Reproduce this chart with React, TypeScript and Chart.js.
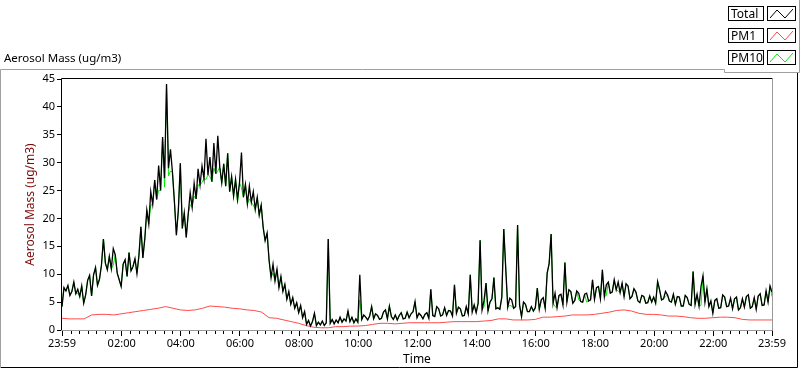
import React, { useEffect, useRef } from "react";
import { Chart, registerables } from "chart.js";

Chart.register(...registerables);

// minutes after the 23:59 start for each labelled tick
const TICK_MINUTES = [0, 121, 241, 361, 481, 601, 721, 841, 961, 1081, 1201, 1321, 1440];
const TICK_LABELS = ["23:59", "02:00", "04:00", "06:00", "08:00", "10:00", "12:00", "14:00", "16:00", "18:00", "20:00", "22:00", "23:59"];

const SAMPLE_MIN = 4; // Total and PM10 sampling interval (minutes)
const PM1_STEP_MIN = 15;

// Total aerosol mass, one value per 4 minutes (rows = 1 hour)
const TOTAL = [
  4.2, 7.6, 7.0, 8.0, 6.2, 6.9, 8.6, 6.5, 7.3, 6.0, 7.9, 4.8, 6.3, 8.9, 9.8,
  6.1, 9.9, 11.2, 8.0, 9.1, 11.6, 16.3, 12.0, 10.8, 13.2, 11.0, 14.6, 13.5, 10.2, 9.0,
  7.8, 11.8, 12.6, 9.6, 13.9, 10.6, 11.4, 12.8, 10.1, 13.3, 18.5, 12.9, 16.4, 21.5, 19.0,
  24.8, 22.5, 26.9, 23.4, 29.5, 25.0, 34.6, 27.2, 44.1, 29.0, 32.4, 28.3, 23.0, 17.0, 21.5,
  29.9, 18.2, 21.0, 16.6, 20.8, 24.6, 22.0, 26.3, 23.5, 28.9, 26.0, 29.4, 27.1, 34.3, 27.8,
  31.0, 26.6, 33.5, 28.0, 34.8, 29.2, 26.4, 29.8, 25.8, 31.7, 24.8, 27.5, 24.0, 27.0, 23.4,
  26.4, 31.8, 23.8, 26.1, 22.6, 25.8, 22.9, 24.8, 21.6, 23.8, 20.6, 22.4, 18.4, 16.0, 17.4,
  12.5, 9.4, 11.8, 8.8, 10.9, 7.6, 9.6, 6.9, 8.2, 5.5, 6.9, 4.6, 5.8, 3.9, 4.9,
  3.1, 4.4, 2.2, 3.3, 1.0, 1.7, 0.7, 1.5, 3.0, 0.8, 1.4, 0.9, 1.6, 0.8, 1.3,
  16.3, 1.2, 1.9, 1.1, 1.8, 1.3, 2.3, 1.4, 2.0, 1.6, 3.4, 1.5, 2.3, 1.3, 2.0,
  1.4, 9.9, 1.9, 2.7, 2.3, 1.8, 2.5, 4.2, 2.0, 2.9, 2.6, 1.9, 2.1, 3.2, 3.6,
  2.0, 4.3, 2.4, 1.9, 2.7, 1.8, 2.6, 3.1, 2.0, 2.1, 3.2, 2.2, 2.9, 3.3, 5.1,
  2.2, 3.0, 2.6, 2.0, 2.8, 3.1, 2.1, 7.3, 2.6, 2.4, 4.2, 3.8, 2.5, 2.7, 4.0,
  2.6, 3.5, 3.4, 2.5, 8.1, 3.0, 4.1, 3.8, 2.5, 2.6, 4.2, 2.9, 9.9, 3.2, 4.5,
  3.1, 4.8, 16.1, 3.6, 5.3, 8.4, 3.4, 5.0, 5.6, 9.4, 3.8, 4.0, 3.7, 5.9, 18.1,
  11.0, 4.1, 5.7, 5.4, 3.9, 4.2, 18.8, 4.5, 2.4, 5.0, 4.6, 3.3, 3.3, 4.2, 3.4,
  4.0, 7.5, 3.7, 5.4, 5.8, 3.9, 10.2, 11.9, 17.2, 4.8, 6.6, 4.0, 6.2, 6.4, 4.5,
  12.1, 5.0, 7.2, 6.9, 4.8, 5.3, 7.0, 6.6, 5.1, 5.0, 6.4, 6.6, 5.2, 5.4, 9.0,
  5.5, 7.6, 7.8, 5.6, 10.8, 6.0, 8.1, 8.6, 6.6, 6.8, 9.0, 7.2, 8.6, 6.7, 8.4,
  6.0, 8.3, 7.9, 5.6, 6.0, 7.4, 6.8, 5.2, 4.9, 6.2, 6.0, 4.8, 4.9, 6.1, 5.0,
  5.9, 4.8, 8.7, 7.2, 5.4, 5.6, 6.9, 6.3, 5.2, 5.0, 6.4, 4.6, 6.0, 5.9, 4.3,
  4.3, 6.2, 5.8, 4.6, 4.4, 10.5, 4.6, 6.4, 4.3, 7.8, 9.7, 5.0, 7.4, 4.2, 5.2,
  3.0, 5.3, 5.6, 3.9, 4.0, 6.3, 5.9, 4.2, 4.3, 5.7, 3.8, 5.6, 5.9, 3.6, 4.0,
  5.6, 4.1, 6.0, 6.3, 3.9, 4.2, 5.8, 3.7, 6.1, 6.5, 4.4, 4.5, 7.0, 5.0, 7.9,
  6.8,
];

// PM10, one value per 4 minutes (rows = 1 hour)
const PM10 = [
  4.2, 7.6, 7.0, 8.0, 6.2, 6.9, 8.6, 6.5, 6.6, 6.0, 7.9, 4.8, 6.3, 8.9, 9.8,
  6.1, 9.9, 11.2, 8.0, 9.1, 11.6, 16.3, 12.0, 10.8, 13.2, 11.0, 11.6, 13.5, 10.2, 9.0,
  7.8, 11.8, 12.6, 9.6, 13.9, 10.6, 11.4, 12.8, 10.1, 13.3, 18.5, 12.9, 16.4, 21.5, 19.0,
  22.4, 22.5, 26.9, 23.4, 25.0, 25.0, 34.6, 25.6, 44.1, 27.6, 28.5, 28.3, 23.0, 17.0, 21.5,
  29.9, 18.2, 21.0, 16.6, 20.8, 22.5, 22.0, 24.0, 23.5, 26.0, 26.0, 26.5, 27.1, 27.0, 27.8,
  27.5, 26.6, 29.0, 28.0, 28.5, 29.2, 26.4, 29.8, 25.8, 31.7, 24.8, 27.5, 24.0, 27.0, 22.8,
  26.4, 25.5, 23.8, 26.1, 22.6, 23.5, 22.9, 22.4, 21.6, 23.8, 20.6, 22.4, 18.4, 16.0, 17.4,
  12.5, 9.4, 10.2, 8.8, 10.9, 7.6, 9.6, 6.9, 8.2, 5.5, 6.9, 4.6, 5.8, 3.9, 4.9,
  3.1, 4.4, 2.2, 3.3, 1.0, 1.7, 0.7, 1.5, 3.0, 0.8, 1.4, 0.9, 1.6, 0.8, 1.3,
  16.3, 1.2, 1.9, 1.1, 1.8, 1.3, 2.3, 1.4, 2.0, 1.6, 3.4, 1.5, 2.3, 1.3, 2.0,
  1.4, 5.4, 1.9, 2.7, 2.3, 1.8, 2.5, 4.2, 2.0, 2.9, 2.6, 1.9, 2.1, 3.2, 3.6,
  2.0, 4.3, 2.4, 1.9, 2.7, 1.8, 2.6, 3.1, 2.0, 2.1, 3.2, 2.2, 2.9, 3.3, 5.1,
  2.2, 3.0, 2.6, 2.0, 2.8, 3.1, 2.1, 7.3, 2.6, 2.4, 4.2, 3.8, 2.5, 2.7, 4.0,
  2.6, 3.5, 3.4, 2.5, 8.1, 3.0, 4.1, 3.8, 2.5, 2.6, 4.2, 2.9, 9.9, 3.2, 4.5,
  3.1, 4.8, 16.1, 3.6, 4.2, 8.4, 3.4, 5.0, 5.6, 9.4, 3.8, 4.0, 3.7, 5.9, 18.1,
  11.0, 4.1, 4.4, 4.3, 3.9, 4.2, 18.8, 4.5, 2.4, 5.0, 4.6, 3.3, 3.3, 4.2, 3.4,
  4.0, 7.5, 3.7, 5.4, 5.8, 3.9, 10.2, 11.9, 17.2, 4.8, 4.2, 4.0, 6.2, 6.4, 4.5,
  12.1, 5.0, 7.2, 6.9, 4.8, 5.3, 7.0, 5.4, 5.1, 5.0, 6.4, 5.0, 5.2, 5.4, 9.0,
  5.5, 7.6, 7.8, 5.6, 10.8, 6.0, 6.2, 8.6, 6.6, 6.8, 9.0, 7.2, 7.0, 6.7, 8.4,
  6.0, 8.3, 7.9, 5.6, 6.0, 7.4, 6.8, 5.2, 4.9, 6.2, 6.0, 4.8, 4.9, 6.1, 5.0,
  5.9, 4.8, 8.7, 7.2, 5.4, 5.6, 6.0, 6.3, 5.2, 5.0, 6.4, 4.6, 6.0, 5.9, 4.3,
  4.3, 6.2, 5.8, 4.6, 4.4, 10.5, 4.6, 6.4, 4.3, 4.4, 9.7, 5.0, 7.4, 4.2, 5.2,
  3.0, 5.3, 5.6, 3.9, 4.0, 6.3, 5.9, 4.2, 4.3, 5.7, 3.8, 5.6, 5.9, 3.6, 4.0,
  5.6, 4.1, 6.0, 6.3, 3.9, 4.2, 5.8, 3.7, 6.1, 6.5, 4.4, 4.5, 7.0, 5.0, 7.9,
  6.0,
];

// PM1, one value per 15 minutes (rows = 2 hours)
const PM1 = [
  2.1, 2.0, 2.0, 2.0, 2.7, 2.8, 2.8, 2.7,
  2.9, 3.1, 3.3, 3.5, 3.7, 3.9, 4.2, 3.9,
  3.6, 3.5, 3.6, 3.9, 4.3, 4.2, 4.1, 3.9,
  3.8, 3.6, 3.5, 3.2, 2.2, 2.1, 1.8, 1.5,
  1.2, 0.8, 0.5, 0.4, 0.4, 0.6, 0.6, 0.7,
  0.7, 0.8, 1.0, 1.2, 1.2, 1.1, 1.2, 1.3,
  1.3, 1.3, 1.3, 1.3, 1.4, 1.5, 1.5, 1.5,
  1.5, 1.6, 1.7, 2.0, 2.0, 1.8, 1.8, 1.8,
  1.9, 2.3, 2.3, 2.4, 2.5, 2.7, 2.7, 2.7,
  2.8, 3.0, 3.2, 3.5, 3.6, 3.4, 3.0, 2.8,
  2.8, 2.7, 2.5, 2.5, 2.4, 2.2, 2.1, 2.1,
  2.2, 2.3, 2.3, 2.2, 1.9, 1.8, 1.8, 1.8,
  1.8,
];

const SERIES_NAMES = ["Total", "PM1", "PM10"];
const SERIES_COLORS = ["#000000", "#ff4a4a", "#00ee00"];

const FONT = "'Noto Sans', 'DejaVu Sans', sans-serif";

function toPoints(values: number[], step: number) {
  return values.map((v, i) => ({ x: i * step, y: v }));
}

const framePlugin = {
  id: "frame",
  afterDraw(chart: any) {
    const ctx = chart.ctx as CanvasRenderingContext2D;
    const { left, right, top, bottom } = chart.chartArea;
    const xs = chart.scales.x;
    ctx.save();
    ctx.lineWidth = 1;
    // plot frame
    ctx.strokeStyle = "#000";
    ctx.beginPath();
    ctx.moveTo(left - 0.5, bottom + 0.5);
    ctx.lineTo(left - 0.5, top - 0.5);
    ctx.lineTo(right + 0.5, top - 0.5);
    ctx.stroke();
    ctx.strokeStyle = "#9a9a9a";
    ctx.beginPath();
    ctx.moveTo(right + 0.5, top - 0.5);
    ctx.lineTo(right + 0.5, bottom + 0.5);
    ctx.lineTo(left - 1, bottom + 0.5);
    ctx.stroke();
    // minor ticks on x
    ctx.strokeStyle = "#000";
    ctx.beginPath();
    for (let j = 1; j < 84; j++) {
      if (j % 7 === 0) continue;
      const m = 1 + (j * 120) / 7;
      const px = Math.round(xs.getPixelForValue(m)) + 0.5;
      ctx.moveTo(px, bottom + 1);
      ctx.lineTo(px, bottom + 4);
    }
    ctx.stroke();
    // panel borders
    ctx.strokeStyle = "#a0a0a0";
    ctx.beginPath();
    ctx.moveTo(0.5, 368);
    ctx.lineTo(0.5, 69.5);
    ctx.lineTo(724.5, 69.5);
    ctx.lineTo(724.5, 72.5);
    ctx.lineTo(799.5, 72.5);
    ctx.lineTo(799.5, 0);
    ctx.stroke();
    ctx.strokeStyle = "#000";
    ctx.beginPath();
    ctx.moveTo(797.5, 73);
    ctx.lineTo(797.5, 367.5);
    ctx.lineTo(1, 367.5);
    ctx.stroke();
    // axis titles
    ctx.fillStyle = "#000";
    ctx.font = `12px ${FONT}`;
    ctx.textAlign = "center";
    ctx.textBaseline = "middle";
    ctx.fillText("Time", (left + right) / 2, 360);
    ctx.translate(31, (top + bottom) / 2);
    ctx.rotate(-Math.PI / 2);
    ctx.fillStyle = "#7a0c0c";
    ctx.fillText("Aerosol Mass (ug/m3)", 0, 0);
    ctx.restore();
  },
};

function Swatch({ color }: { color: string }) {
  return (
    <svg width={29} height={15} style={{ display: "block" }}>
      <rect x={0.5} y={0.5} width={28} height={14} fill="#fff" stroke="#000" />
      <polyline points="3,12 10,4 18,12 26,3" fill="none" stroke={color} strokeWidth={1} />
    </svg>
  );
}

export default function App() {
  const ref = useRef<HTMLCanvasElement | null>(null);
  useEffect(() => {
    if (!ref.current) return;
    const chart = new Chart(ref.current, {
      type: "line",
      data: {
        datasets: [
          { label: SERIES_NAMES[0], data: toPoints(TOTAL, SAMPLE_MIN), borderColor: SERIES_COLORS[0], borderWidth: 1.3, pointRadius: 0, tension: 0 },
          { label: SERIES_NAMES[1], data: toPoints(PM1, PM1_STEP_MIN), borderColor: SERIES_COLORS[1], borderWidth: 1, pointRadius: 0, tension: 0 },
          { label: SERIES_NAMES[2], data: toPoints(PM10, SAMPLE_MIN), borderColor: SERIES_COLORS[2], borderWidth: 1, pointRadius: 0, tension: 0 },
        ],
      },
      options: {
        animation: false,
        responsive: false,
        devicePixelRatio: 1,
        events: [],
        layout: { padding: { top: 79, right: 28, left: 0, bottom: 0 } },
        plugins: { legend: { display: false }, tooltip: { enabled: false } },
        scales: {
          x: {
            type: "linear",
            min: 0,
            max: 1440,
            afterBuildTicks: (s: any) => {
              s.ticks = TICK_MINUTES.map((v) => ({ value: v }));
            },
            afterFit: (s: any) => {
              s.height = 39;
            },
            ticks: {
              autoSkip: false,
              maxRotation: 0,
              minRotation: 0,
              padding: 1,
              color: "#000",
              font: { family: FONT, size: 11 },
              callback: (v: any) => {
                const i = TICK_MINUTES.indexOf(Number(v));
                return i >= 0 ? TICK_LABELS[i] : "";
              },
            },
            grid: { display: true, drawOnChartArea: false, drawTicks: true, tickLength: 6, color: "#000", tickColor: "#000" },
            border: { display: false },
          },
          y: {
            min: 0,
            max: 45,
            afterFit: (s: any) => {
              s.width = 62;
            },
            ticks: { stepSize: 5, padding: 2, color: "#000", font: { family: FONT, size: 11 } },
            grid: { display: true, drawOnChartArea: false, drawTicks: true, tickLength: 5, color: "#000", tickColor: "#000" },
            border: { display: false },
          },
        },
      },
      plugins: [framePlugin],
    } as any);
    return () => chart.destroy();
  }, []);

  const labelBox: React.CSSProperties = {
    position: "absolute",
    left: 728,
    width: 32,
    height: 13,
    border: "1px solid #000",
    background: "#fff",
    font: `12px ${FONT}`,
    lineHeight: "13px",
    paddingLeft: 2,
    color: "#000",
    boxSizing: "content-box",
  };
  const tops = [6, 28, 50];

  return (
    <div style={{ position: "absolute", left: 0, top: 0, width: 800, height: 369, background: "#fff", overflow: "hidden" }}>
      <canvas ref={ref} width={800} height={369} style={{ position: "absolute", left: 0, top: 0, width: 800, height: 369 }} />
      <div style={{ position: "absolute", left: 4, top: 50, font: `11.5px ${FONT}`, color: "#000", whiteSpace: "nowrap" }}>
        Aerosol Mass (ug/m3)
      </div>
      {SERIES_NAMES.map((n, i) => (
        <React.Fragment key={n}>
          <div style={{ ...labelBox, top: tops[i] }}>{n}</div>
          <div style={{ position: "absolute", left: 767, top: tops[i] }}>
            <Swatch color={SERIES_COLORS[i]} />
          </div>
        </React.Fragment>
      ))}
    </div>
  );
}
